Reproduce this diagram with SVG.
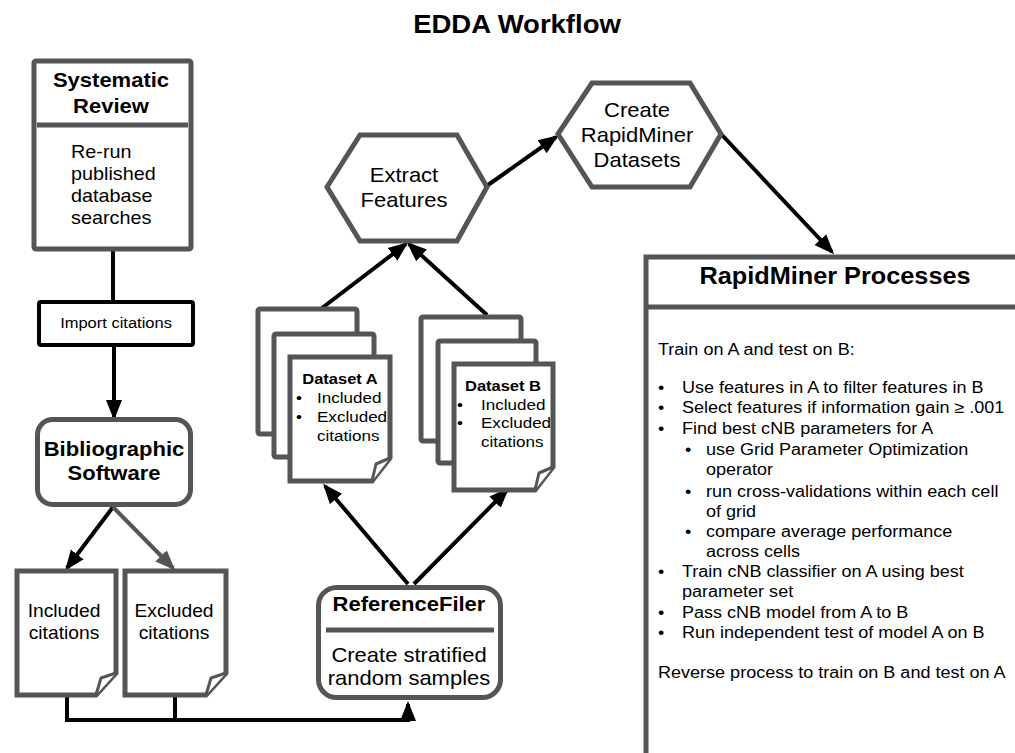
<svg xmlns="http://www.w3.org/2000/svg" width="1015" height="753" viewBox="0 0 1015 753">
<style>
text{font-family:"Liberation Sans",Arial,sans-serif;fill:#000}
.n{fill:#fff;stroke:#555;stroke-width:5}
.k{fill:#fff;stroke:#000;stroke-width:4}
.dv{stroke:#555;stroke-width:5}
.c{fill:none;stroke:#000;stroke-width:4}
.cg{fill:none;stroke:#555;stroke-width:4}
.fl{fill:#fff;stroke:#555;stroke-width:3;stroke-linejoin:round}
.b{font-weight:bold}
.m{text-anchor:middle}
</style>
<defs>
<marker id="ah" markerUnits="userSpaceOnUse" markerWidth="22" markerHeight="18" refX="17" refY="9" orient="auto" viewBox="0 0 22 18"><path d="M0,1 L20,9 L0,17 z" fill="#000"/></marker>
<marker id="ahg" markerUnits="userSpaceOnUse" markerWidth="22" markerHeight="18" refX="17" refY="9" orient="auto" viewBox="0 0 22 18"><path d="M0,1 L20,9 L0,17 z" fill="#555"/></marker>
</defs>
<rect width="1015" height="753" fill="#fff"/>
<text class="b m" font-size="25" transform="translate(517,33) scale(1.1,1)">EDDA Workflow</text>

<g id="connectors">
<path class="c" d="M113,251 V300"/>
<path class="c" d="M114,347 V417" marker-end="url(#ah)"/>
<path class="c" d="M113,507 L67,568" marker-end="url(#ah)"/>
<path class="cg" d="M113,507 L173,568" marker-end="url(#ahg)"/>
<path class="c" d="M67,697 V720 H408 V704" marker-end="url(#ah)"/>
<path class="c" d="M175,697 V720"/>
<path class="c" d="M408,584 L325,486" marker-end="url(#ah)"/>
<path class="c" d="M414,584 L507,490" marker-end="url(#ah)"/>
<path class="c" d="M322,308 L406,244" marker-end="url(#ah)"/>
<path class="c" d="M487,315 L409,244" marker-end="url(#ah)"/>
<path class="c" d="M488,185 L556,137" marker-end="url(#ah)"/>
<path class="c" d="M722,135 L832,252" marker-end="url(#ah)"/>
</g>

<g id="systematic-review">
<rect class="n" x="34" y="61" width="157" height="188" rx="2"/>
<line class="dv" x1="37" y1="125" x2="188" y2="125"/>
<text class="b m" font-size="20" transform="translate(111,87) scale(1.1,1)"><tspan x="0">Systematic</tspan><tspan x="0" dy="26">Review</tspan></text>
<text font-size="18" transform="translate(71,158) scale(1.1,1)"><tspan x="0">Re-run</tspan><tspan x="0" dy="22">published</tspan><tspan x="0" dy="22">database</tspan><tspan x="0" dy="22">searches</tspan></text>
</g>

<g id="import-citations">
<rect class="k" x="39" y="302" width="154" height="43" rx="2"/>
<text class="m" font-size="15" transform="translate(116,328) scale(1.1,1)">Import citations</text>
</g>

<g id="bibliographic-software">
<rect class="n" x="37.5" y="419.5" width="153" height="85" rx="15"/>
<text class="b m" font-size="20" transform="translate(114,456) scale(1.1,1)"><tspan x="0">Bibliographic</tspan><tspan x="0" dy="24">Software</tspan></text>
</g>

<g id="included-citations">
<path class="n" d="M17,571 H116 V673 L96,695 H17 Z"/>
<path class="fl" d="M96,695 L101,678 L116,673"/>
<text class="m" font-size="17.5" transform="translate(64,617) scale(1.1,1)"><tspan x="0">Included</tspan><tspan x="0" dy="22">citations</tspan></text>
</g>

<g id="excluded-citations">
<path class="n" d="M125,571 H226 V673 L206,695 H125 Z"/>
<path class="fl" d="M206,695 L211,678 L226,673"/>
<text class="m" font-size="17.5" transform="translate(174,617) scale(1.1,1)"><tspan x="0">Excluded</tspan><tspan x="0" dy="22">citations</tspan></text>
</g>

<g id="referencefiler">
<rect class="n" x="318.5" y="587.5" width="182" height="110" rx="18"/>
<line class="dv" x1="326" y1="630" x2="494" y2="630"/>
<text class="b m" font-size="20" transform="translate(409,611) scale(1.1,1)">ReferenceFiler</text>
<text class="m" font-size="20" transform="translate(409,662) scale(1.1,1)"><tspan x="0">Create stratified</tspan><tspan x="0" dy="23">random samples</tspan></text>
</g>

<g id="dataset-a">
<rect class="n" x="258" y="309" width="99" height="125" rx="2"/>
<rect class="n" x="274" y="334" width="100" height="123" rx="2"/>
<path class="n" d="M290,357 H390 V458 L372,481 H290 Z"/>
<path class="fl" d="M372,481 L376,464 L390,458"/>
<text class="b m" font-size="15" transform="translate(340,384) scale(1.1,1)">Dataset A</text>
<text font-size="15.5" transform="translate(296,403) scale(1.1,1)">•</text>
<text font-size="15.5" transform="translate(296,422) scale(1.1,1)">•</text>
<text font-size="15.5" transform="translate(317,403) scale(1.1,1)"><tspan x="0">Included</tspan><tspan x="0" dy="19">Excluded</tspan><tspan x="0" dy="19">citations</tspan></text>
</g>

<g id="dataset-b">
<rect class="n" x="421" y="317" width="100" height="124" rx="2"/>
<rect class="n" x="438" y="341" width="98" height="122" rx="2"/>
<path class="n" d="M454,364 H553 V467 L535,490 H454 Z"/>
<path class="fl" d="M535,490 L539,473 L553,467"/>
<text class="b m" font-size="15" transform="translate(503,391) scale(1.1,1)">Dataset B</text>
<text font-size="15.5" transform="translate(457,410) scale(1.1,1)">•</text>
<text font-size="15.5" transform="translate(457,428) scale(1.1,1)">•</text>
<text font-size="15.5" transform="translate(481,410) scale(1.1,1)"><tspan x="0">Included</tspan><tspan x="0" dy="18.5">Excluded</tspan><tspan x="0" dy="18.5">citations</tspan></text>
</g>

<g id="extract-features">
<polygon class="n" points="327,187 360,135 457,135 487,187 457,241 360,241"/>
<text class="m" font-size="20" transform="translate(404,182) scale(1.1,1)"><tspan x="0">Extract</tspan><tspan x="0" dy="25">Features</tspan></text>
</g>

<g id="create-rapidminer-datasets">
<polygon class="n" points="558,134 592,83 690,83 721,134 690,187 592,187"/>
<text class="m" font-size="20" transform="translate(637,117) scale(1.1,1)"><tspan x="0">Create</tspan><tspan x="0" dy="25">RapidMiner</tspan><tspan x="0" dy="25">Datasets</tspan></text>
</g>

<g id="rapidminer-processes">
<rect class="n" x="646" y="257" width="420" height="520"/>
<line class="dv" x1="648" y1="307" x2="1015" y2="307"/>
<text class="b m" font-size="23" transform="translate(835,284) scale(1.1,1)">RapidMiner Processes</text>
<text font-size="16.4" transform="scale(1.1,1)">
<tspan x="598.2" y="355">Train on A and test on B:</tspan>
<tspan x="598.2" y="393">•</tspan><tspan x="620" y="393">Use features in A to filter features in B</tspan>
<tspan x="598.2" y="413">•</tspan><tspan x="620" y="413">Select features if information gain ≥ .001</tspan>
<tspan x="598.2" y="434">•</tspan><tspan x="620" y="434">Find best cNB parameters for A</tspan>
<tspan x="622.7" y="455">•</tspan><tspan x="641.8" y="455">use Grid Parameter Optimization</tspan>
<tspan x="641.8" y="475">operator</tspan>
<tspan x="622.7" y="497">•</tspan><tspan x="641.8" y="497">run cross-validations within each cell</tspan>
<tspan x="641.8" y="517">of grid</tspan>
<tspan x="622.7" y="537">•</tspan><tspan x="641.8" y="537">compare average performance</tspan>
<tspan x="641.8" y="557">across cells</tspan>
<tspan x="598.2" y="577">•</tspan><tspan x="620" y="577">Train cNB classifier on A using best</tspan>
<tspan x="620" y="597">parameter set</tspan>
<tspan x="598.2" y="618">•</tspan><tspan x="620" y="618">Pass cNB model from A to B</tspan>
<tspan x="598.2" y="638">•</tspan><tspan x="620" y="638">Run independent test of model A on B</tspan>
<tspan x="598.2" y="678">Reverse process to train on B and test on A</tspan>
</text>
</g>
</svg>
